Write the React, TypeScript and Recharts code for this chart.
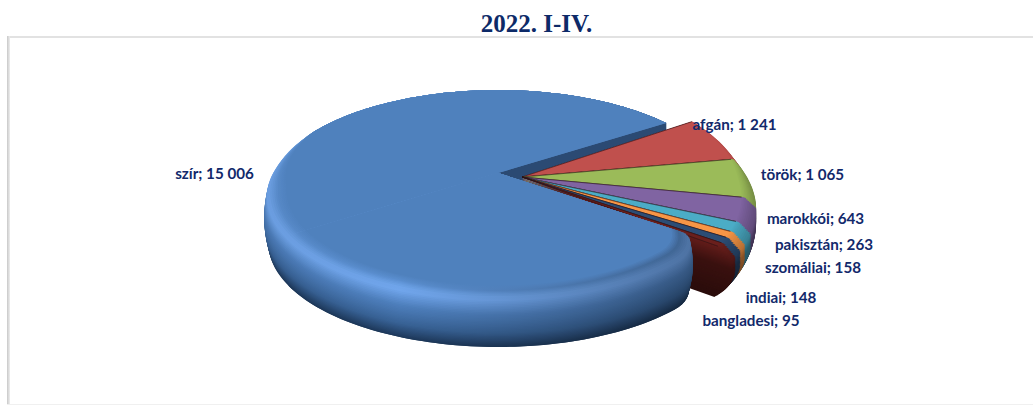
import React from 'react';
import { PieChart, Pie } from 'recharts';

const categories = ['szír', 'afgán', 'török', 'marokkói', 'pakisztán', 'szomáliai', 'indiai', 'bangladesi'];
const values = [15006, 1241, 1065, 643, 263, 158, 148, 95];
const faceColors = ['#4f81bd', '#c0504d', '#9bbb59', '#8064a2', '#4bacc6', '#f79646', '#2c4d75', '#6a1f1c'];
const labelAnchors = [[214.5, 173], [734.5, 124], [802.5, 174], [815.5, 218], [824, 244], [813, 267], [781, 297], [751, 320]];
const rows = categories.map((name, i) => ({ name, value: values[i] }));

const W = 1033, H = 405;
const CX = 498, CY = 173, RX = 225, RY_RATIO = 0.4418, P = 0.198;
const EXPLODE = [24, 4];
const SMALL_SCALE = 1.02, SMALL_RY = 1.1;
const DEPTH = 50, SMALL_DEPTH = 52, N = 44;
const NAVY = '#12296b';
const BLUE_START = 126;

const hex = (c: string) => [1, 3, 5].map((i) => parseInt(c.slice(i, i + 2), 16));
const css = (a: number[]) => `rgb(${a.map((x) => Math.max(0, Math.min(255, Math.round(x)))).join(',')})`;
const mix = (a: number[], b: number[], t: number) => a.map((x, i) => x + (b[i] - x) * t);
const clamp = (x: number) => Math.max(0, Math.min(1, x));
const ramp = (stops: [number, string][], s: number) => {
  for (let i = 1; i < stops.length; i++) {
    if (s <= stops[i][0]) {
      const t = (s - stops[i - 1][0]) / (stops[i][0] - stops[i - 1][0]);
      return mix(hex(stops[i - 1][1]), hex(stops[i][1]), t);
    }
  }
  return hex(stops[stops.length - 1][1]);
};

const project = (cx: number, cy: number, rx: number, u: number, v: number, ryk = 1) => {
  const w = 1 + P * v;
  return [cx + (rx * u) / w, cy - (rx * RY_RATIO * ryk * v) / w];
};

// a0, a1: clockwise degrees from north
const wedge = (cx: number, cy: number, rx: number, a0: number, a1: number, inset: (v: number, deg: number) => number, d: number, ryk = 1) => {
  const pts: string[] = [`${cx.toFixed(2)},${(cy + d).toFixed(2)}`];
  const n = Math.max(2, Math.ceil(Math.abs(a1 - a0) / 1.5));
  for (let i = 0; i <= n; i++) {
    const deg = a0 + ((a1 - a0) * i) / n;
    const a = (deg * Math.PI) / 180;
    const u0 = Math.sin(a), v0 = Math.cos(a);
    const r = 1 - inset(v0, deg);
    const [x, y] = project(cx, cy, rx, u0 * r, v0 * r, ryk);
    pts.push(`${x.toFixed(2)},${(y + d).toFixed(2)}`);
  }
  return 'M' + pts.join('L') + 'Z';
};

const blueStops: [number, string][] = [[0, '#4f81bd'], [0.12, '#5587c5'], [0.24, '#6c9fe2'], [0.45, '#4a79b4'], [0.75, '#355d8e'], [1, '#1c3657']];
const blueHoriz = (x: number) => (x < 400 ? 1 + 0.05 * ((x - 268) / 132) : x < 560 ? 1.05 - 0.17 * ((x - 400) / 160) : 0.88 - 0.16 * ((x - 560) / 140));

const BlueLayers = ({ cx, cy, rx, a0, a1, withWall }: any) => {
  const out: any[] = [];
  const defs: any[] = [];
  for (let k = N; k >= 0; k--) {
    const s = k / N;
    const insetK = 1 - clamp(s / 0.24);
    const bulge = 0.018 * Math.sin(Math.PI * clamp((s - 0.15) / 0.85));
    const inset = (v: number, deg: number) => {
      const corner = 0.07 * clamp(1 - (deg - BLUE_START) / 12) ** 2;
      return 0.075 * insetK * clamp((-v + 0.45) / 0.6) - bulge * clamp((0.4 - v) / 0.4) + corner;
    };
    const d = DEPTH * clamp((s - 0.2) / 0.8);
    const base = ramp(blueStops, s);
    const wt = clamp(s / 0.12);
    const id = `bl-${withWall ? 'a' : 'b'}-${k}`;
    defs.push(
      <linearGradient key={id} id={id} gradientUnits="userSpaceOnUse" x1={268} x2={700} y1={0} y2={0}>
        {[268, 400, 560, 700].map((x) => (
          <stop key={x} offset={(x - 268) / 432} stopColor={css(base.map((c) => c * (1 + (blueHoriz(x) - 1) * wt)))} />
        ))}
      </linearGradient>
    );
    if (k === 0 && withWall) {
      const a = (a1 * Math.PI) / 180;
      const [ex, ey] = project(cx, cy, rx, Math.sin(a), Math.cos(a));
      out.push(<path key="wall" d={`M${cx},${cy}L${ex},${ey}L${ex},${ey + DEPTH}L${cx},${cy + DEPTH}Z`} fill="#2b4a73" />);
    }
    out.push(<path key={k} d={wedge(cx, cy, rx, a0, a1, inset, d)} fill={`url(#${id})`} />);
  }
  return (
    <g>
      <defs>{defs}</defs>
      {out}
    </g>
  );
};

const smallShade = (s: number) => (s < 0.1 ? 1 - s : s < 0.4 ? 0.9 - 0.35 * ((s - 0.1) / 0.3) : 0.55 - 0.15 * ((s - 0.4) / 0.6));

const SmallSlice = ({ cx, cy, rx, a0, a1, color }: any) => {
  const face = hex(color);
  const out: any[] = [];
  const faceInset = (v: number) => 0.06 * (0.15 + 0.85 * clamp((0.6 - v) / 0.6));
  for (let k = N; k >= 0; k--) {
    const s = k / N;
    const insetK = 1 - clamp(s / 0.22);
    const tail = 0.075 * clamp((s - 0.45) / 0.55) ** 2;
    const inset = (v: number) => faceInset(v) * insetK + tail * clamp((0.1 - v) / 0.6 + 0.4);
    const d = SMALL_DEPTH * clamp((s - 0.06) / 0.94);
    out.push(<path key={k} d={wedge(cx, cy, rx, a0, a1, inset, d, SMALL_RY)} fill={css(face.map((c) => c * smallShade(s)))} />);
  }
  const rim = (deg: number) => {
    const a = (deg * Math.PI) / 180;
    const r = 1 - faceInset(Math.cos(a));
    return project(cx, cy, rx, r * Math.sin(a), r * Math.cos(a), SMALL_RY);
  };
  const [x0, y0] = rim(a0);
  const [x1, y1] = rim(a1);
  out.push(<path key="edge" d={`M${x0},${y0}L${cx},${cy}L${x1},${y1}`} fill="none" stroke="#2a1014" strokeOpacity={0.6} strokeWidth={1} />);
  return <g>{out}</g>;
};

const BaseSector = (props: any) => {
  const { cx, cy, outerRadius, startAngle, endAngle, name } = props;
  const a0 = 90 - startAngle, a1 = 90 - endAngle;
  const i = categories.indexOf(name);
  if (i === 0) return <BlueLayers cx={cx} cy={cy} rx={outerRadius} a0={a0} a1={a1} withWall />;
  return <SmallSlice cx={cx + EXPLODE[0]} cy={cy + EXPLODE[1]} rx={outerRadius * SMALL_SCALE} a0={a0} a1={a1} color={faceColors[i]} />;
};

// The front of the big slice hides the cut walls of the exploded slices.
const FrontSector = (props: any) => {
  const { cx, cy, outerRadius, startAngle, name } = props;
  if (categories.indexOf(name) !== 0) return <g />;
  const a0 = 90 - startAngle;
  return <BlueLayers cx={cx} cy={cy} rx={outerRadius} a0={a0} a1={a0 + 110} withWall={false} />;
};

const fmt = (v: number) => String(v).replace(/\B(?=(\d{3})+$)/g, ' ');

const renderLabel = (props: any) => {
  const i = categories.indexOf(props.name);
  const [x, y] = labelAnchors[i];
  return (
    <text x={x} y={y} textAnchor="middle" dominantBaseline="central" fontFamily="Lato, sans-serif" fontWeight={700} fontSize={15.2} fill={NAVY}>
      {`${categories[i]}; ${fmt(values[i])}`}
    </text>
  );
};

export default function App() {
  return (
    <div style={{ position: 'absolute', left: 0, top: 0, width: W, height: H, background: '#fff', overflow: 'hidden' }}>
      <div style={{ position: 'absolute', left: 7, top: 36, width: 1026, height: 2, background: '#e2e2e2' }} />
      <div style={{ position: 'absolute', left: 7, top: 36, width: 3, height: 369, background: 'linear-gradient(90deg,#c8c8c8,#eeeeee)' }} />
      <div style={{ position: 'absolute', left: 7, top: 404, width: 1026, height: 1, background: '#f0f0f0' }} />
      <div style={{ position: 'absolute', left: 0, width: 1073, top: 9, textAlign: 'center', fontFamily: '"Liberation Serif", serif', fontWeight: 700, fontSize: 25, lineHeight: '30px', color: '#0d2a68' }}>
        2022. I-IV.
      </div>
      <div style={{ position: 'absolute', left: 0, top: 0 }}>
        <PieChart width={W} height={H} margin={{ top: 0, right: 0, bottom: 0, left: 0 }}>
          <Pie data={rows} dataKey="value" nameKey="name" cx={CX} cy={CY} outerRadius={RX} startAngle={-36} endAngle={-396} stroke="none" isAnimationActive={false} shape={BaseSector} label={false} />
          <Pie data={rows} dataKey="value" nameKey="name" cx={CX} cy={CY} outerRadius={RX} startAngle={-36} endAngle={-396} stroke="none" isAnimationActive={false} shape={FrontSector} label={renderLabel} labelLine={false} />
        </PieChart>
      </div>
    </div>
  );
}
